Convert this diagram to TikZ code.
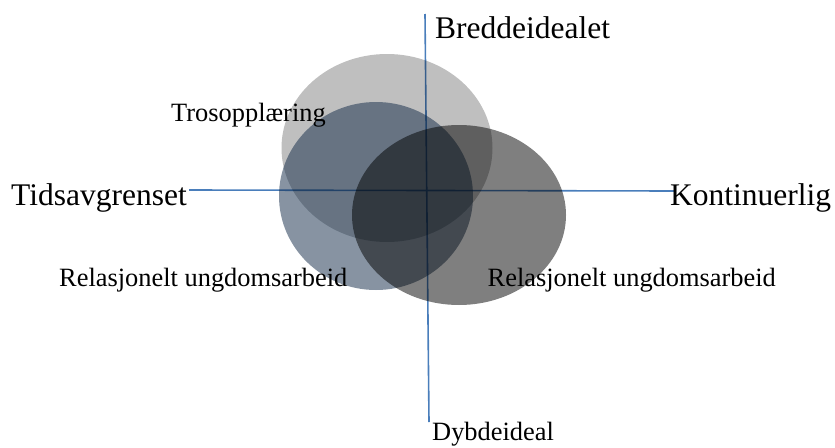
\documentclass[tikz,border=0pt]{standalone}
\usepackage{fontspec}
\setmainfont{Liberation Serif}
\usetikzlibrary{shapes.geometric}
\definecolor{axisblue}{RGB}{74,126,187}
\definecolor{slateblue}{RGB}{15,40,70}
\tikzset{
  axis/.style={draw=axisblue, line width=1.6pt},
  blob/.style={ellipse, inner sep=0pt, draw=none},
  biglabel/.style={anchor=base west, inner sep=0pt, font=\fontsize{31.5}{36}\selectfont},
  smalllabel/.style={anchor=base west, inner sep=0pt, font=\fontsize{26.4}{30}\selectfont},
}
\begin{document}
\begin{tikzpicture}[x=1pt,y=-1pt]
\useasboundingbox (0,0) rectangle (835,447);
% axes
\coordinate (vtop) at (425,14);
\coordinate (vbot) at (429,422);
\coordinate (hleft) at (189,190);
\coordinate (hright) at (675,191);
\draw[axis] (vtop) -- (vbot);
\draw[axis] (hleft) -- (hright);
% ellipses
\node[blob, fill=black, fill opacity=0.25, minimum width=211pt, minimum height=188pt] (tros) at (387,148) {};
\node[blob, fill=slateblue, fill opacity=0.5, minimum width=194pt, minimum height=188pt] (relL) at (376,196) {};
\node[blob, fill=black, fill opacity=0.5, minimum width=214pt, minimum height=180pt] (relR) at (459,215) {};
% labels
\node[biglabel] (bredde) at (435,38) {Breddeidealet};
\node[biglabel] (tids) at (11,205) {Tidsavgrenset};
\node[biglabel] (kont) at (670,205) {Kontinuerlig};
\node[smalllabel] (dybde) at (432,440) {Dybdeideal};
\node[smalllabel] (troslbl) at (171,121.5) {Trosopplæring};
\node[smalllabel] (relLlbl) at (59,286.5) {Relasjonelt ungdomsarbeid};
\node[smalllabel] (relRlbl) at (487.5,286.5) {Relasjonelt ungdomsarbeid};
\end{tikzpicture}
\end{document}
